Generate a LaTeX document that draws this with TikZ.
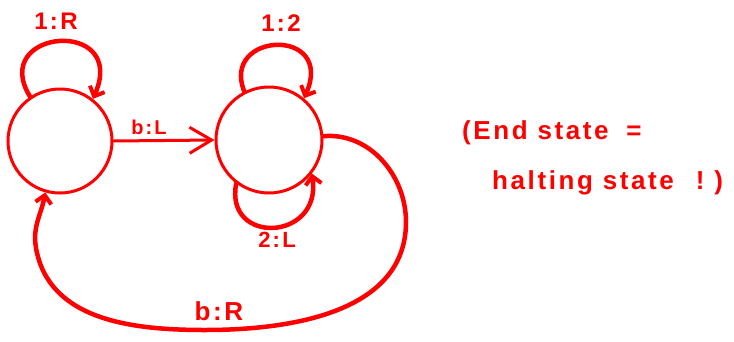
\documentclass[tikz,border=0pt]{standalone}
\usepackage{fontspec}
\setmainfont{Liberation Sans}
\newfontfamily\handfont[LetterSpace=10]{Liberation Sans}
\usetikzlibrary{arrows.meta}
\definecolor{pen}{RGB}{255,0,0}
\tikzset{
  state/.style={circle,draw=pen,line width=3pt,minimum size=104pt,inner sep=0pt},
  loopline/.style={draw=pen,line width=4.5pt,line cap=round,-{Straight Barb[length=8pt,width=16pt,line width=4pt]}},
  bigline/.style={draw=pen,line width=4.5pt,line cap=round,-{Straight Barb[length=8pt,width=16pt,line width=4pt]}},
  thinarrow/.style={draw=pen,line width=3pt,line cap=round,-{Straight Barb[length=22pt,width=26pt,line width=3pt]}},
  lbl/.style={text=pen,font=\handfont\bfseries\fontsize{24}{26}\selectfont,inner sep=0pt},
  note/.style={text=pen,font=\handfont\bfseries\fontsize{26}{29}\selectfont,inner sep=0pt,anchor=base west}
}
\begin{document}
\begin{tikzpicture}[x=1pt,y=-1pt]
\useasboundingbox (0,0) rectangle (734,341);
\node[state] (L) at (60,141) {};
\node[state,minimum size=106pt] (R) at (269,140) {};
% straight arrow
\draw[thinarrow] (L.east) -- (R.west);
\node[lbl,font=\handfont\bfseries\fontsize{20}{22}\selectfont] (lbL) at (149,127) {b:L};
% left self loop
\draw[loopline] (L.124) .. controls +(-42,-68) and +(36,-82) .. (L.52);
\node[lbl] (l1R) at (56,21) {1:R};
% right top loop
\draw[loopline] (R.117) .. controls +(-24,-60) and +(32,-72) .. (R.50);
\node[lbl] (l12) at (281,23) {1:2};
% right bottom loop
\draw[loopline] (R.233) .. controls +(-12,62) and +(10,68) .. (R.322);
\node[lbl,font=\handfont\bfseries\fontsize{22}{24}\selectfont] (l2L) at (277,240) {2:L};
% big arc back
\coordinate (c1) at (406,222);
\coordinate (c2) at (205,330);
\coordinate (c3) at (36,248);
\draw[bigline] (R.4) to[out=5,in=90] (c1) to[out=-90,in=0] (c2) to[out=180,in=-80] (c3) to[out=100,in=-100] (L.254);
\node[lbl,font=\handfont\bfseries\fontsize{26}{28}\selectfont] (lbR) at (219,311) {b:R};
% note
\node[note] (n1) at (462,139) {(End state\hspace{8pt} =};
\node[note] (n2) at (492,189) {halting state\hspace{12pt} !\hspace{10pt})};
\end{tikzpicture}
\end{document}
